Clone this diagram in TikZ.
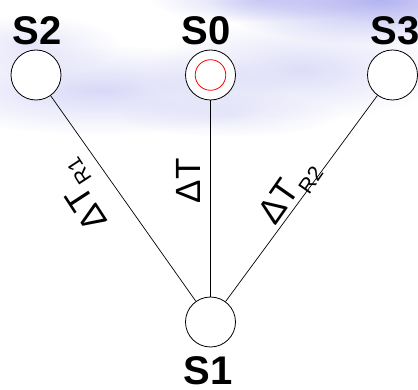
\documentclass[tikz,border=0pt]{standalone}
\usepackage{fontspec}
\setmainfont{Liberation Sans}
\usetikzlibrary{fadings}
\definecolor{haze}{RGB}{170,170,240}
\tikzfading[name=softblob, inner color=transparent!0, outer color=transparent!100]
\tikzset{
  station/.style={circle, draw=black, fill=white, line width=0.8pt, minimum size=50pt, inner sep=0pt},
  stlabel/.style={font=\bfseries\fontsize{40}{40}\selectfont, inner sep=0pt, anchor=base},
  delay/.style={font=\fontsize{35}{35}\selectfont, inner sep=0pt},
  link/.style={draw=black, line width=0.7pt},
  cloud/.style={fill=haze, path fading=softblob}
}
\newcommand{\dsub}[1]{\raisebox{-0.28em}{\fontsize{21}{21}\selectfont #1}}
\begin{document}
\begin{tikzpicture}[x=1pt, y=-1pt]
  % canvas
  \useasboundingbox (0,0) rectangle (418,390);
  \fill[white] (0,0) rectangle (418,390);
  \begin{scope}
    \clip (0,0) rectangle (418,390);
    % soft lavender haze across the top
    \fill[cloud, opacity=0.9] (380,0) ellipse (170 and 45);
    \fill[cloud, opacity=0.5] (260,0) ellipse (110 and 22);
    \fill[cloud, opacity=0.45] (100,90) ellipse (190 and 45);
    \fill[cloud, opacity=0.4] (300,70) ellipse (150 and 50);
    \fill[cloud, opacity=0.3] (30,45) ellipse (90 and 30);
    \fill[cloud, opacity=0.25] (230,115) ellipse (110 and 22);
  \end{scope}

  % stations
  \node[station] (s2) at (36,75) {};
  \node[station] (s0) at (210.5,75) {};
  \node[station] (s3) at (392.5,75) {};
  \node[station] (s1) at (210.5,322) {};
  \draw[red, line width=0.8pt] (s0.center) circle (15.3);

  % station names
  \node[stlabel] (n2) at (37,45) {S2};
  \node[stlabel] (n0) at (206,45) {S0};
  \node[stlabel] (n3) at (395,45) {S3};
  \node[stlabel] (n1) at (208,384) {S1};

  % links
  \draw[link] (s2) -- (s1);
  \draw[link] (s0) -- (s1);
  \draw[link] (s3) -- (s1);

  % link delays
  \node[delay, rotate=123] (d1) at (83,195) {ΔT\dsub{R1}};
  \node[delay, rotate=90] (d0) at (188,181) {ΔT};
  \node[delay, rotate=55] (d2) at (290,193) {ΔT\dsub{R2}};
\end{tikzpicture}
\end{document}
